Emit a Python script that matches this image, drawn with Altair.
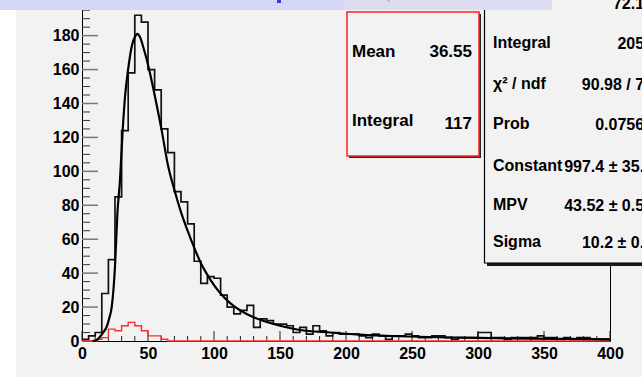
import altair as alt
import pandas as pd

# ---------------- data ----------------
BIN_WIDTH = 5
black_counts = [1, 3, 5, 28, 48, 85, 124, 158, 192, 188,
                160, 148, 125, 111, 88, 82, 69, 47, 34, 38,
                37, 27, 20, 16, 18, 21, 8, 13, 12, 10,
                10, 9, 5, 8, 4, 9, 6, 3, 5, 4,
                4, 4, 3, 2, 4, 3, 1, 3, 3, 4,
                3, 2, 2, 3, 3, 2, 1, 2, 2, 2,
                5, 5, 2, 2, 1, 2, 2, 2, 2, 3,
                2, 2, 1, 2, 1, 2, 2, 1, 1, 1]
red_counts = [0, 0, 1, 2, 7, 6, 9, 11, 9, 6,
              3, 3, 1] + [0] * 67

fit_x = [8, 11, 13.6, 16, 18.7, 20.5, 22.5, 24, 25, 26.8, 28.8, 30.8, 32.7, 34.6,
         36.4, 38.1, 40, 41.9, 44, 46.5, 50.3, 55.3, 60.4, 65, 70, 75, 80,
         85, 90, 95, 100, 105, 112, 120, 130, 140, 150, 165, 188, 210, 240,
         270, 300, 340, 370, 400]
fit_y = [0, 0.5, 2.5, 5, 8.4, 13, 20, 32, 44, 75, 95, 124, 145, 158,
         168, 175, 179, 181, 179, 173, 162, 144, 124, 104, 89, 76, 65,
         55, 46, 39, 33, 28, 22.5, 18, 14, 11.2, 9, 6.5, 5, 3.8, 2.8,
         2.2, 1.8, 1.4, 1.2, 1.0]

x_labels = [0, 50, 100, 150, 200, 250, 300, 350, 400]
y_labels = [0, 20, 40, 60, 80, 100, 120, 140, 160, 180]
x_minor = list(range(0, 401, 10))
y_minor = list(range(0, 201, 5))

red_box_labels = ["Mean", "Integral"]
red_box_values = ["36.55", "117"]
fit_box_labels = ["", "Integral", "\u03c7\u00b2 / ndf", "Prob", "Constant", "MPV", "Sigma"]
fit_box_values = ["72.13", "2051", "90.98 / 73", "0.07566", "997.4 \u00b1 35.4",
                  "43.52 \u00b1 0.53", "10.2 \u00b1 0.4"]

# ---------------- layout ----------------
W, H = 528, 341
PL, PT = 82, 0
FONT = "Liberation Sans"

edges = [i * BIN_WIDTH for i in range(len(black_counts))]
hist = pd.DataFrame({"x": edges + [400],
                     "black": black_counts + [black_counts[-1]],
                     "red": red_counts + [red_counts[-1]]})
fit = pd.DataFrame({"x": fit_x, "y": fit_y})
one = pd.DataFrame({"k": [0]})

xs = alt.Scale(domain=[0, 400], nice=False, zero=False)
ys = alt.Scale(domain=[0, 201], nice=False, zero=False)
xaxis = alt.Axis(values=x_labels, ticks=False, grid=False, title=None, labelFont=FONT,
                 labelFontSize=16, labelFontWeight="bold", labelColor="black",
                 labelPadding=4, domainColor="black", labelOverlap=False, labelFlush=False)
yaxis = alt.Axis(values=y_labels, ticks=False, grid=False, title=None, labelFont=FONT,
                 labelFontSize=16, labelFontWeight="bold", labelColor="black",
                 labelPadding=3, domainColor="black", labelOverlap=False, labelFlush=False)


def X(f):
    return alt.X(f, type="quantitative", scale=xs, axis=xaxis)


def Y(f):
    return alt.Y(f, type="quantitative", scale=ys, axis=yaxis)


def px(v):
    return alt.value(v - PL)


def py(v):
    return alt.value(v - PT)


def box(x1, x2, y1, y2, **kw):
    return alt.Chart(one).mark_rect(**kw).encode(x=px(x1), x2=px(x2), y=py(y1), y2=py(y2))


def label(txt, x, yb, size, align):
    return alt.Chart(one).mark_text(font=FONT, fontSize=size, fontWeight="bold", align=align,
                                    baseline="alphabetic", color="black").encode(
        x=px(x), y=py(yb), text=alt.value(txt))


layers = []

# left white strip of the canvas
layers.append(box(0, 16, 0, 377, color="white"))

# histogram
layers.append(alt.Chart(hist).mark_line(interpolate="step-after", color="#111111",
                                        strokeWidth=1.7).encode(x=X("x"), y=Y("black")))

# ticks (inside)
tx = pd.DataFrame({"t": x_minor})
ty = pd.DataFrame({"t": y_minor})
layers.append(alt.Chart(tx).mark_rule(color="#222222", strokeWidth=1).encode(
    x=X("t"), y=alt.value(H), y2=alt.value(H - 5)).transform_filter("datum.t % 50 != 0"))
layers.append(alt.Chart(tx).mark_rule(color="#222222", strokeWidth=1).encode(
    x=X("t"), y=alt.value(H), y2=alt.value(H - 10)).transform_filter("datum.t % 50 == 0"))
layers.append(alt.Chart(ty).mark_rule(color="#333333", strokeWidth=1).encode(
    y=Y("t"), x=alt.value(0), x2=alt.value(8)).transform_filter("datum.t % 20 != 0"))
layers.append(alt.Chart(ty).mark_rule(color="#777777", strokeWidth=1.5).encode(
    y=Y("t"), x=alt.value(0), x2=alt.value(16)).transform_filter("datum.t % 20 == 0"))

layers.append(alt.Chart(hist).mark_line(interpolate="step-after", color="#ff2a2a",
                                        strokeWidth=1.4).encode(x=X("x"), y=Y("red")))

# fit curve
layers.append(alt.Chart(fit).mark_line(interpolate="monotone", color="black",
                                       strokeWidth=2.2).encode(x=X("x"), y=Y("y")))

# red stat box
layers.append(box(349, 481, 14, 158, color="#2a2a2a"))
layers.append(box(347, 479, 12, 156, fill="#f2f2f2", stroke="#ff2020", strokeWidth=1.5))
for lab, val, yb_l, yb_v in zip(red_box_labels, red_box_values, [56.5, 126], [56.5, 129]):
    layers.append(label(lab, 352, yb_l, 17, "left"))
    layers.append(label(val, 472, yb_v, 17, "right"))

# fit stat box
layers.append(box(487, 700, -40, 266, color="#1a1a1a"))
layers.append(box(484.5, 697, -43, 263, fill="#f2f2f2", stroke="black", strokeWidth=1.2))
baselines = [8, 48, 88.5, 129.3, 170.7, 210, 247]
for lab, val, yb in zip(fit_box_labels, fit_box_values, baselines):
    if lab:
        layers.append(label(lab, 493, yb, 16, "left"))
    layers.append(label(val, 653, yb + 1, 16, "right"))

# top banner (title box cut by the picture edge)
layers.append(box(0, 344, 0, 10, color="#d6d6f8"))
layers.append(box(344, 552, 0, 10, color="#dcdcf2"))
layers.append(box(277, 281, 0, 3, color="#3b3bd0"))
layers.append(box(387, 390, 0, 1.5, color="#f0a0b0"))

chart = alt.layer(*layers).properties(
    width=W, height=H,
    padding={"left": PL, "top": PT, "right": 642 - PL - W, "bottom": 377 - PT - H},
    autosize=alt.AutoSizeParams(type="none"),
).configure(background="#f2f2f2").configure_view(stroke="black", strokeWidth=1)

chart.save("out.html", embed_options={"renderer": "svg", "actions": False})
